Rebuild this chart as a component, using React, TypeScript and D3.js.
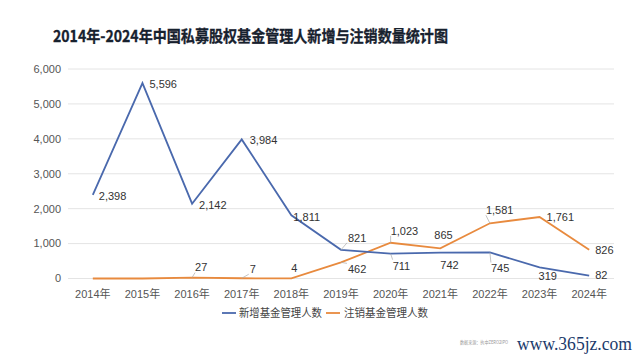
import React from "react";
import * as d3 from "d3";

const years = ["2014年", "2015年", "2016年", "2017年", "2018年", "2019年", "2020年", "2021年", "2022年", "2023年", "2024年"];
const newManagers = [2398, 5596, 2142, 3984, 1811, 821, 711, 742, 745, 319, 82];
const cancelledManagers = [0, 0, 27, 7, 4, 462, 1023, 865, 1581, 1761, 826];
const yTicks = [0, 1000, 2000, 3000, 4000, 5000, 6000];
const seriesNames = ["新增基金管理人数", "注销基金管理人数"];
const title = "2014年-2024年中国私募股权基金管理人新增与注销数量统计图";

// label placement (layout only): [dx, dy, leader]
const newLabelPos: [number, number, boolean][] = [
  [6, 1, false], [7, 1, false], [7, 1, false], [8, 1, false], [2, 2, false],
  [7, -12, true], [2, 12, true], [0, 13, false], [1, 16, true], [-1, 9, false], [6, 0, false],
];
const cancelLabelPos: [number, number, boolean][] = [
  [0, 0, false], [0, 0, false], [3, -10, true], [8, -9, true], [0, -10, false],
  [7, 7, true], [0, -12, true], [-6, -13, false], [-4, -13, true], [7, 0, false], [6, 0, false],
];

const W = 640;
const H = 360;
const BLUE = "#4a69ad";
const ORANGE = "#e88a3e";
const FONT = "'Liberation Sans', Arial, 'Noto Sans CJK SC', sans-serif";

export default function App() {
  const x = d3.scaleBand<string>().domain(years).range([68, 614]);
  const y = d3.scaleLinear().domain([0, 6000]).range([278.5, 69]);
  const cx = (i: number) => (x(years[i]) as number) + x.bandwidth() / 2;
  const fmt = d3.format(",");
  const line = d3
    .line<number>()
    .x((_, i) => cx(i))
    .y((d) => y(d));

  const renderLabels = (vals: number[], pos: [number, number, boolean][], skipZero: boolean) =>
    vals.map((v, i) => {
      if (skipZero && v === 0) return null;
      const [dx, dy, leader] = pos[i];
      const px = cx(i);
      const py = y(v);
      const lx = px + dx;
      const ly = py + dy;
      return (
        <g key={i}>
          {leader && (
            <line
              x1={px}
              y1={py}
              x2={dx > 3 ? lx - 1 : lx}
              y2={dy < 0 ? ly + 5 : ly - 6}
              stroke="#aaa"
              strokeWidth={0.7}
            />
          )}
          <text x={lx} y={ly} dy="0.35em" fontSize={11} fill="#333" fontFamily={FONT}>
            {fmt(v)}
          </text>
        </g>
      );
    });

  return (
    <svg width={W} height={H} style={{ position: "absolute", left: 0, top: 0, background: "#fff" }}>
      <rect width={W} height={H} fill="#fff" />
      <text
        x={53}
        y={42}
        fontSize={16}
        fontWeight="bold"
        fill="#17212e"
        fontFamily="'Noto Sans CJK SC', sans-serif"
        textLength={395}
        lengthAdjust="spacingAndGlyphs"
        stroke="#17212e"
        strokeWidth={0.3}
      >
        {title}
      </text>

      {yTicks.map((t) => (
        <g key={t}>
          <line x1={68} x2={614} y1={y(t)} y2={y(t)} stroke="#e4e4e4" strokeWidth={1} />
          <text x={61} y={y(t)} dy="0.35em" textAnchor="end" fontSize={11} fill="#555" fontFamily={FONT}>
            {fmt(t)}
          </text>
        </g>
      ))}

      {years.map((yr, i) => (
        <text key={yr} x={cx(i)} y={298} textAnchor="middle" fontSize={11} fill="#555" fontFamily={FONT}>
          {yr}
        </text>
      ))}

      <path d={line(cancelledManagers) || ""} fill="none" stroke={ORANGE} strokeWidth={1.8} />
      <path d={line(newManagers) || ""} fill="none" stroke={BLUE} strokeWidth={1.8} />

      {renderLabels(newManagers, newLabelPos, false)}
      {renderLabels(cancelledManagers, cancelLabelPos, true)}

      <g fontFamily={FONT} fontSize={11} fill="#444">
        <line x1={222} x2={236} y1={313} y2={313} stroke={BLUE} strokeWidth={1.8} />
        <text x={239} y={313} dy="0.35em" textLength={83} lengthAdjust="spacingAndGlyphs">
          {seriesNames[0]}
        </text>
        <line x1={326} x2={340} y1={313} y2={313} stroke={ORANGE} strokeWidth={1.8} />
        <text x={344} y={313} dy="0.35em" textLength={84} lengthAdjust="spacingAndGlyphs">
          {seriesNames[1]}
        </text>
      </g>

      <text
        x={460}
        y={344}
        fontSize={5}
        fill="#999"
        fontFamily="'Noto Sans CJK SC', sans-serif"
        textLength={48}
        lengthAdjust="spacingAndGlyphs"
      >
        数据来源：执中ZERO2IPO
      </text>
      <text
        x={517}
        y={350}
        fontSize={19}
        fill="#1b3a6b"
        fontFamily="'Liberation Serif', 'DejaVu Serif', serif"
        textLength={115}
        lengthAdjust="spacingAndGlyphs"
      >
        www.365jz.com
      </text>
    </svg>
  );
}
